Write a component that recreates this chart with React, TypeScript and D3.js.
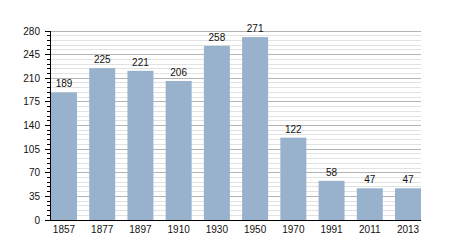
import React from "react";
import * as d3 from "d3";

const years = ["1857", "1877", "1897", "1910", "1930", "1950", "1970", "1991", "2011", "2013"];
const population = [189, 225, 221, 206, 258, 271, 122, 58, 47, 47];
const majorTicks = [0, 35, 70, 105, 140, 175, 210, 245, 280];
const minorTicks = d3.range(0, 281, 7).filter((v) => v % 35 !== 0);

export default function App() {
  const W = 450, H = 250;
  const x = d3.scaleBand<string>().domain(years).range([51, 421]).paddingInner(0.32).paddingOuter(0).align(0);
  const y = d3.scaleLinear().domain([0, 280]).range([220, 31]);
  const font = "Liberation Sans, Arial, Helvetica, sans-serif";
  return (
    <svg width={W} height={H} style={{ position: "absolute", left: 0, top: 0 }} fontFamily={font}>
      <rect width={W} height={H} fill="#fff" />
      {minorTicks.map((t) => (
        <line key={"mg" + t} x1={50} x2={421} y1={y(t)} y2={y(t)} stroke="#e2e2e2" strokeWidth={1} shapeRendering="crispEdges" />
      ))}
      {majorTicks.map((t) => (
        <line key={"Mg" + t} x1={50} x2={421} y1={y(t)} y2={y(t)} stroke="#b4b4b4" strokeWidth={1} shapeRendering="crispEdges" />
      ))}
      {population.map((v, i) => (
        <rect key={"b" + i} x={x(years[i])} y={y(v)} width={x.bandwidth()} height={y(0) - y(v)} fill="#98b2cd" />
      ))}
      {population.map((v, i) => (
        <text key={"v" + i} x={(x(years[i]) as number) + x.bandwidth() / 2} y={y(v) - 5} fontSize={10} textAnchor="middle" fill="#111">
          {v}
        </text>
      ))}
      <line x1={50} x2={50} y1={31} y2={220} stroke="#000" strokeWidth={1} shapeRendering="crispEdges" />
      <line x1={50} x2={421} y1={220} y2={220} stroke="#000" strokeWidth={1} shapeRendering="crispEdges" />
      {minorTicks.map((t) => (
        <line key={"mt" + t} x1={47} x2={50} y1={y(t)} y2={y(t)} stroke="#000" strokeWidth={1} shapeRendering="crispEdges" />
      ))}
      {majorTicks.map((t) => (
        <g key={"Mt" + t}>
          <line x1={45} x2={50} y1={y(t)} y2={y(t)} stroke="#000" strokeWidth={1} shapeRendering="crispEdges" />
          <text x={40} y={y(t)} dy="0.35em" fontSize={10} textAnchor="end" fill="#111">
            {t}
          </text>
        </g>
      ))}
      {years.map((yr) => (
        <text key={"x" + yr} x={(x(yr) as number) + x.bandwidth() / 2} y={229} dy="0.35em" fontSize={10} textAnchor="middle" fill="#111">
          {yr}
        </text>
      ))}
    </svg>
  );
}
